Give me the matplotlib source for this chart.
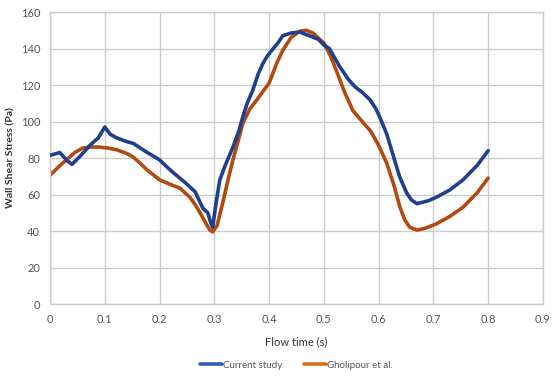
import numpy as np
import matplotlib.pyplot as plt

# Current study (blue)
t_current = [0.0, 0.018, 0.03, 0.04, 0.055, 0.073, 0.088, 0.1, 0.11, 0.122, 0.14,
             0.152, 0.175, 0.2, 0.212, 0.225, 0.245, 0.265, 0.272, 0.279, 0.288,
             0.293, 0.297, 0.303, 0.31, 0.32, 0.334, 0.345, 0.352, 0.36, 0.37,
             0.38, 0.389, 0.397, 0.405, 0.416, 0.425, 0.44, 0.456, 0.474, 0.49,
             0.5, 0.51, 0.529, 0.545, 0.557, 0.57, 0.584, 0.595, 0.602, 0.615,
             0.626, 0.638, 0.651, 0.66, 0.67, 0.69, 0.706, 0.73, 0.754, 0.78, 0.8]
wss_current = [81.5, 83, 79, 76.5, 81, 87, 91, 97, 93, 91, 89,
               88, 83.5, 79, 75.5, 72, 67, 61.5, 57, 52.5, 50,
               45, 42, 55, 68, 76, 86, 95, 102.5, 110, 117,
               126, 132, 136, 139, 143, 147, 148.5, 149, 147, 145,
               142, 140, 130, 123, 119, 116, 112, 107, 102.5, 93,
               82, 70, 61, 57, 55, 56.5, 58.6, 62.5, 68, 76, 84]

# Gholipour et al. (orange)
t_gholipour = [0.0, 0.015, 0.03, 0.045, 0.06, 0.075, 0.09, 0.105, 0.122, 0.14,
               0.152, 0.165, 0.177, 0.19, 0.2, 0.22, 0.237, 0.255, 0.265, 0.274,
               0.285, 0.292, 0.297, 0.305, 0.315, 0.325, 0.334, 0.345, 0.352, 0.365,
               0.378, 0.39, 0.4, 0.414, 0.425, 0.44, 0.456, 0.468, 0.48, 0.5,
               0.512, 0.524, 0.538, 0.553, 0.57, 0.586, 0.6, 0.615, 0.628, 0.639,
               0.648, 0.657, 0.67, 0.685, 0.706, 0.73, 0.754, 0.78, 0.8]
wss_gholipour = [70.5, 75, 79, 83, 85.5, 86, 86, 85.5, 84.5, 82.5,
                 80.5, 77, 73.5, 70.5, 68, 65.5, 63.5, 58.6, 54.5, 50,
                 44, 40.5, 39.5, 43, 55, 68, 79, 91, 99, 107,
                 112, 117, 121, 132, 139, 146, 149.5, 150, 148.5, 143,
                 136, 127, 116, 106, 100, 94.5, 87, 77, 65, 53,
                 46, 42, 40.5, 41.5, 44, 48, 53, 61, 69]

xticks = [0, 0.1, 0.2, 0.3, 0.4, 0.5, 0.6, 0.7, 0.8, 0.9]
xticklabels = ['0', '0.1', '0.2', '0.3', '0.4', '0.5', '0.6', '0.7', '0.8', '0.9']
yticks = [0, 20, 40, 60, 80, 100, 120, 140, 160]

plt.rcParams['font.family'] = ['Lato', 'DejaVu Sans']

fig = plt.figure(figsize=(5.54, 3.77), dpi=100)
ax = fig.add_axes([0.0903, 0.1936, 0.8897, 0.7745])

ax.plot(t_current, wss_current, color='#203f8c', lw=2.6, solid_joinstyle='round',
        solid_capstyle='round', label='Current study', zorder=3)
ax.plot(t_gholipour, wss_gholipour, color='#b24a12', lw=2.6, solid_joinstyle='round',
        solid_capstyle='round', label='Gholipour et al.', zorder=2)

ax.set_xlim(0, 0.9)
ax.set_ylim(0, 160)
ax.set_xticks(xticks)
ax.set_xticklabels(xticklabels)
ax.set_yticks(yticks)
ax.grid(True, color='#cccccc', lw=1)
ax.tick_params(length=0, labelsize=8, colors='#555555', pad=7)
for s in ax.spines.values():
    s.set_color('#cccccc')
    s.set_linewidth(1)

ax.set_xlabel('Flow time (s)', fontsize=8, color='#333333', labelpad=8)
ax.set_ylabel('Wall Shear Stress (Pa)', fontsize=7.5, color='#333333',
              fontweight='bold', labelpad=4)

leg = ax.legend(loc='center', bbox_to_anchor=(0.5, -0.21), ncol=2,
                frameon=False, fontsize=7, handlelength=2.3, handletextpad=0.1,
                columnspacing=2.2)
leg.get_lines()[0].set_color('#2e5cb8')
leg.get_lines()[1].set_color('#e06a1a')
for t in leg.get_texts():
    t.set_color('#555555')

fig.savefig('out.png', dpi=100)
